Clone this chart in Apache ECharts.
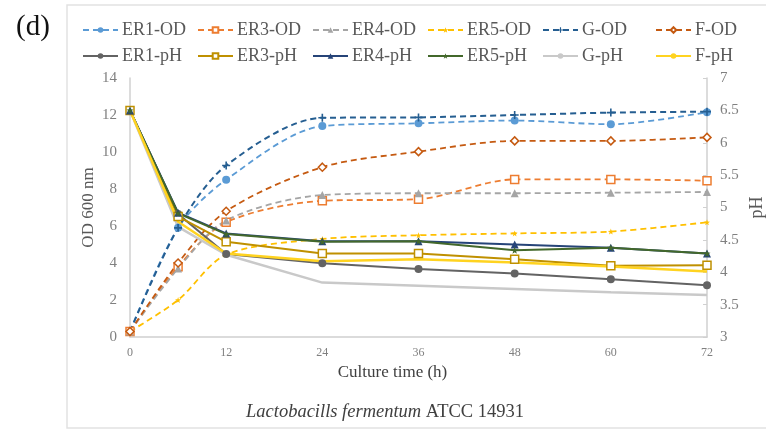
<!DOCTYPE html>
<html><head><meta charset="utf-8">
<script src="https://cdn.jsdelivr.net/npm/echarts@6/dist/echarts.min.js"></script>
<style>html,body{margin:0;padding:0;background:#fff}#c{width:766px;height:433px}</style>
</head><body><div id="c"></div>
<script>
var times = [0, 6, 12, 24, 36, 48, 60, 72];
var xTicks = ['0', '12', '24', '36', '48', '60', '72'];
var odTicks = ['0', '2', '4', '6', '8', '10', '12', '14'];
var phTicks = ['3', '3.5', '4', '4.5', '5', '5.5', '6', '6.5', '7'];

var er1OD = [0.3, 5.9, 8.5, 11.4, 11.55, 11.7, 11.5, 12.15];
var er3OD = [0.3, 3.8, 6.2, 7.36, 7.45, 8.52, 8.52, 8.45];
var er4OD = [0.3, 3.7, 6.3, 7.67, 7.77, 7.77, 7.8, 7.84];
var er5OD = [0.3, 2.0, 4.45, 5.3, 5.5, 5.6, 5.7, 6.2];
var gOD   = [0.3, 5.9, 9.27, 11.85, 11.87, 12.0, 12.13, 12.18];
var fOD   = [0.3, 4.0, 6.8, 9.18, 10.02, 10.6, 10.6, 10.79];

var er1PH = [6.5, 4.9, 4.28, 4.14, 4.05, 3.98, 3.89, 3.8];
var er3PH = [6.5, 4.86, 4.47, 4.29, 4.29, 4.2, 4.1, 4.11];
var er4PH = [6.5, 4.92, 4.6, 4.48, 4.48, 4.43, 4.38, 4.29];
var er5PH = [6.5, 4.91, 4.59, 4.47, 4.48, 4.34, 4.38, 4.29];
var gPH   = [6.5, 4.7, 4.27, 3.84, 3.79, 3.74, 3.69, 3.65];
var fPH   = [6.5, 4.78, 4.29, 4.17, 4.2, 4.15, 4.09, 4.01];

function pairs(v){ return times.map(function(t,i){ return [t, v[i]]; }); }
var serif = 'Liberation Serif';

function mk(name, data, color, yIdx, dashed, symbol, size, open, width, smooth){
  return {
    name: name, type: 'line', yAxisIndex: yIdx, data: pairs(data),
    smooth: smooth, symbol: symbol, symbolSize: size, showSymbol: symbol !== 'none',
    lineStyle: {color: color, width: width, type: dashed ? [6, 4] : 'solid'},
    itemStyle: {color: open ? '#fff' : color, borderColor: color, borderWidth: open ? 1.5 : 0},
    emphasis: {disabled: true}, animation: false
  };
}
var plusPath = 'path://M4,0L6,0L6,4L10,4L10,6L6,6L6,10L4,10L4,6L0,6L0,4L4,4Z';
var starPath = 'path://M5,0L6.2,3.6L10,3.8L7,6.1L8.1,9.8L5,7.6L1.9,9.8L3,6.1L0,3.8L3.8,3.6Z';

var series = [
  mk('ER1-OD', er1OD, '#5B9BD5', 0, true, 'circle', 8, false, 1.8, 0.3),
  mk('ER3-OD', er3OD, '#ED7D31', 0, true, 'rect', 8, true, 1.8, 0.3),
  mk('ER4-OD', er4OD, '#A5A5A5', 0, true, 'triangle', 8, false, 1.8, 0.3),
  mk('ER5-OD', er5OD, '#FFC000', 0, true, starPath, 6, false, 1.8, 0.3),
  mk('G-OD', gOD, '#255E91', 0, true, plusPath, 8, false, 2, 0.3),
  mk('F-OD', fOD, '#C55A11', 0, true, 'diamond', 8, true, 1.8, 0.3),
  mk('ER1-pH', er1PH, '#636363', 1, false, 'circle', 8, false, 2, false),
  mk('ER3-pH', er3PH, '#BF9000', 1, false, 'rect', 8, true, 2, false),
  mk('ER4-pH', er4PH, '#264478', 1, false, 'triangle', 8, false, 2, false),
  mk('ER5-pH', er5PH, '#43682B', 1, false, starPath, 7, false, 2, false),
  mk('G-pH', gPH, '#C9C9C9', 1, false, 'none', 4, false, 2.5, false),
  mk('F-pH', fPH, '#FFD320', 1, false, 'none', 4, false, 2.5, false)
];

var legCols = [82, 197, 312, 427, 542, 655];
var legRows = [21, 47];
var legends = series.map(function(s, i){
  return {
    left: legCols[i % 6], top: legRows[Math.floor(i / 6)], data: [s.name], selectedMode: false,
    itemWidth: 35, itemHeight: 7, itemGap: 4, padding: 0,
    textStyle: {fontFamily: serif, fontSize: 18, color: '#595959', padding: [0,0,0,-1]}
  };
});

var chart = echarts.init(document.getElementById('c'), null, {renderer: 'canvas'});
chart.setOption({
  backgroundColor: '#fff',
  animation: false,
  legend: legends,
  grid: {left: 130, right: 59, top: 78, bottom: 96, containLabel: false, outerBoundsMode: 'none'},
  xAxis: {
    type: 'value', min: 0, max: 72, interval: 12,
    name: 'Culture time (h)', nameLocation: 'middle', nameGap: 27, nameMoveOverlap: false,
    nameTextStyle: {fontFamily: serif, fontSize: 17, color: '#404040', padding: [0, 52, 0, 0]},
    axisLine: {lineStyle: {color: '#d0d0d0', width: 1.5}},
    axisTick: {show: false},
    splitLine: {show: false},
    axisLabel: {fontFamily: serif, fontSize: 12, color: '#808080', margin: 10,
      formatter: function(v){ return xTicks[xTicks.indexOf(String(v))]; }}
  },
  yAxis: [{
    type: 'value', min: 0, max: 14, interval: 2, position: 'left',
    name: 'OD 600 nm', nameLocation: 'middle', nameGap: 33, nameMoveOverlap: false,
    nameTextStyle: {fontFamily: serif, fontSize: 17, color: '#595959'},
    axisLine: {show: true, lineStyle: {color: '#d0d0d0', width: 1.5}},
    axisTick: {show: false}, splitLine: {show: false},
    axisLabel: {fontFamily: serif, fontSize: 15, color: '#808080', margin: 13,
      formatter: function(v){ return odTicks[odTicks.indexOf(String(v))]; }}
  }, {
    type: 'value', min: 3, max: 7, interval: 0.5, position: 'right',
    name: 'pH', nameLocation: 'middle', nameGap: 41, nameRotate: 90, nameMoveOverlap: false,
    nameTextStyle: {fontFamily: serif, fontSize: 18, color: '#595959'},
    axisLine: {show: true, lineStyle: {color: '#d0d0d0', width: 1.5}},
    axisTick: {show: true, length: 4, inside: true, lineStyle: {color: '#d0d0d0'}},
    splitLine: {show: false},
    axisLabel: {fontFamily: serif, fontSize: 15, color: '#808080', margin: 13,
      formatter: function(v){ return phTicks[phTicks.indexOf(String(v))]; }}
  }],
  series: series,
  graphic: [
    {type: 'rect', shape: {x: 67, y: 5, width: 720, height: 423},
      style: {fill: 'none', stroke: '#e2e2e2', lineWidth: 1.5}, silent: true, z: -1},
    {type: 'text', left: 16, top: 13,
      style: {text: '(d)', fontFamily: serif, fontSize: 29, fill: '#111'}},
    {type: 'text', left: 246, top: 403,
      style: {text: '{i|Lactobacills fermentum} ATCC 14931', fill: '#404040',
        fontFamily: serif, fontSize: 18.5,
        rich: {i: {fontStyle: 'italic', fontFamily: serif, fontSize: 18.5, fill: '#404040'}}}}
  ]
});
</script></body></html>
